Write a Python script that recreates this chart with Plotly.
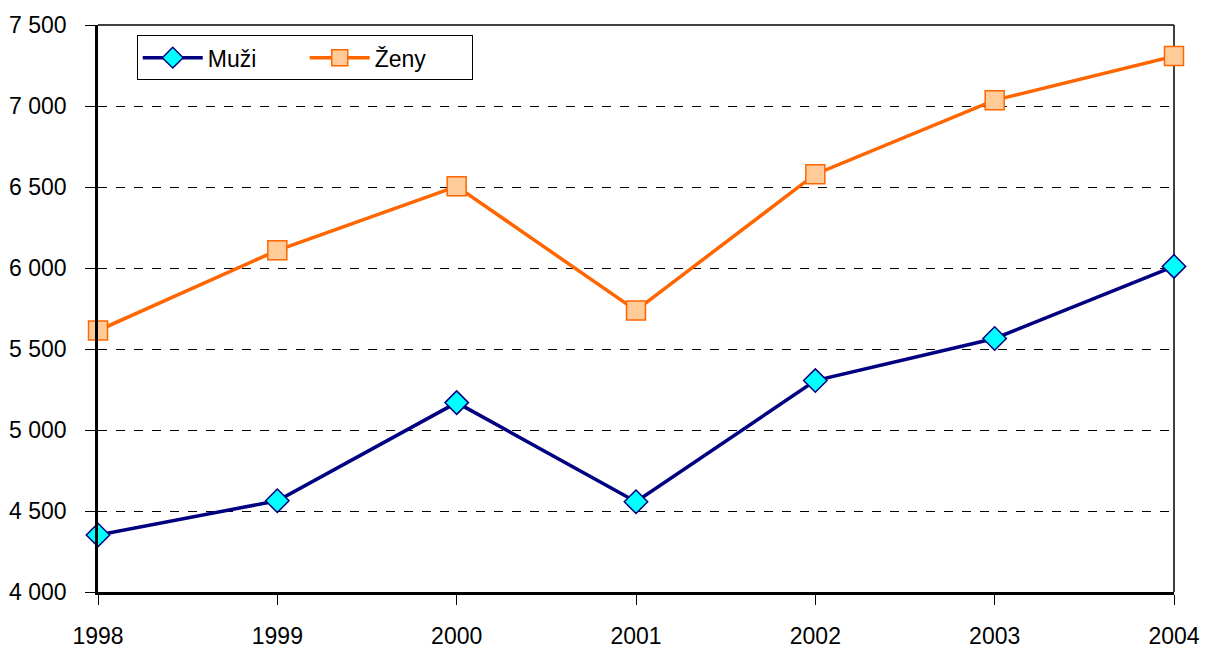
import plotly.graph_objects as go

years = [1998, 1999, 2000, 2001, 2002, 2003, 2004]
muzi = [4352, 4563, 5169, 4557, 5305, 5565, 6010]
zeny = [5614, 6109, 6504, 5738, 6579, 7036, 7308]
ytick_vals = [4000, 4500, 5000, 5500, 6000, 6500, 7000, 7500]
ytick_text = ["4 000", "4 500", "5 000", "5 500", "6 000", "6 500", "7 000", "7 500"]

FAM = "Liberation Sans, Arial, sans-serif"

fig = go.Figure()
fig.add_trace(go.Scatter(
    x=years, y=muzi, name="Muži", mode="lines+markers", cliponaxis=False,
    line=dict(color="#000080", width=3.5),
    marker=dict(symbol="diamond", size=18, color="#00FFFF", line=dict(color="#000080", width=1.5)),
))
fig.add_trace(go.Scatter(
    x=years, y=zeny, name="Ženy", mode="lines+markers", cliponaxis=False,
    line=dict(color="#FF6600", width=3.5),
    marker=dict(symbol="square", size=19, color="#FFCC99", line=dict(color="#FF6600", width=1.5)),
))

font = dict(family=FAM, size=23, color="black")
fig.update_layout(
    width=1197, height=641,
    margin=dict(l=90, r=31, t=17, b=57),
    paper_bgcolor="white", plot_bgcolor="white",
    font=font,
    showlegend=True,
    legend=dict(
        orientation="h", x=0.036, y=0.982, xanchor="left", yanchor="top",
        bordercolor="black", borderwidth=1, bgcolor="white",
        font=dict(family=FAM, size=23),
        itemwidth=60, entrywidth=92,
    ),
    xaxis=dict(
        range=[1998, 2004], tickvals=years, ticktext=[str(y) for y in years],
        showgrid=False, zeroline=False, automargin=False,
        showline=True, linecolor="black", linewidth=2.5,
        ticks="outside", ticklen=10, tickcolor="black", tickwidth=1,
        ticklabelstandoff=12,
    ),
    yaxis=dict(
        range=[4000, 7500], tickvals=ytick_vals, ticktext=ytick_text,
        showgrid=True, gridcolor="black", gridwidth=1, griddash="dash",
        zeroline=False, automargin=False,
        showline=True, linecolor="black", linewidth=2.5,
        ticks="outside", ticklen=10, tickcolor="black", tickwidth=1,
        ticklabelstandoff=14,
    ),
)
# plot-area frame (top and right edges)
fig.add_shape(type="line", xref="paper", yref="paper", x0=0, x1=1, y0=1, y1=1,
              line=dict(color="black", width=1.5), layer="below")
fig.add_shape(type="line", xref="paper", yref="paper", x0=1, x1=1, y0=0, y1=1,
              line=dict(color="black", width=1.5), layer="below")

fig.write_html("out.html")
